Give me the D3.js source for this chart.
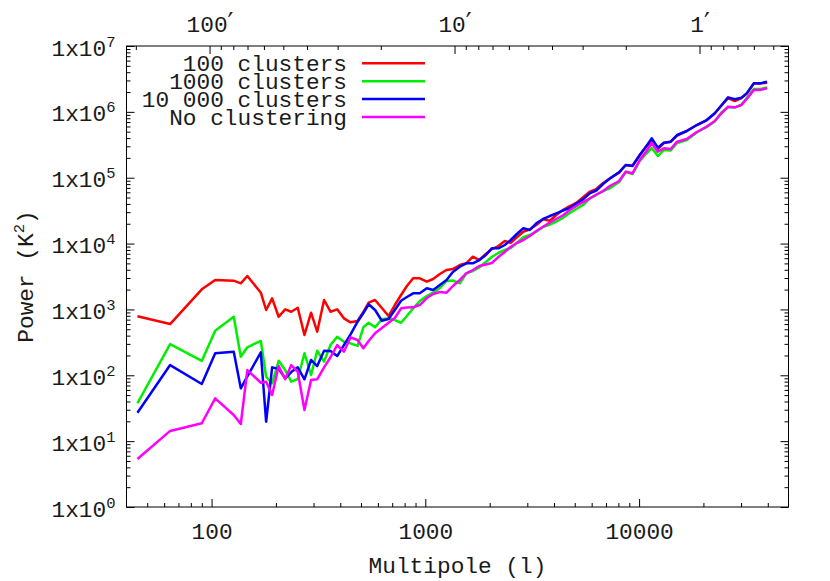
<!DOCTYPE html>
<html>
<head>
<meta charset="utf-8">
<script src="https://cdn.jsdelivr.net/npm/d3@7"></script>
<style>
body { margin: 0; background: #fff; }
text { font-family: 'Liberation Mono', 'DejaVu Sans Mono', monospace; fill: #1a1a1a; }
</style>
</head>
<body>
<div id="chart"></div>
<script>
// multipole bins, shared by every curve
var multipole = [45, 64, 90, 104, 127, 137, 147, 170, 180, 192, 206, 221, 236, 253, 272, 292, 312, 336, 360, 387,
    416, 447, 482, 513, 543, 582, 626, 673, 720, 770, 820, 877, 942, 1016, 1088, 1169, 1257, 1345, 1450, 1555,
    1668, 1789, 1919, 2047, 2195, 2354, 2510, 2680, 2873, 3082, 3304, 3556, 3822, 4099, 4396, 4742, 5084, 5471, 5878, 6308,
    6787, 7294, 8064, 8664, 9312, 10080, 10750, 11470, 12240, 13050, 14060, 15060, 16710, 18620, 20740, 22590, 24370, 26080, 28030, 30130,
    31900, 34400, 36800, 39700];

var power100 = [790, 600, 2020, 2800, 2730, 2490, 3220, 1795, 980, 1475,
    775, 1004, 923, 1062, 409, 891, 459, 1390, 923, 1004,
    733, 637, 667, 914, 1265, 1390, 1051, 794, 1167, 1656,
    2268, 2970, 2970, 2636, 2897, 3450, 3970, 4110, 4725, 5012,
    6320, 5625, 6950, 8265, 9180, 10940, 10310, 12450, 15140, 16470,
    19150, 23360, 22250, 27150, 32350, 37170, 41300, 50400, 61260, 67300,
    83100, 97300, 120700, 155900, 150600, 221300, 292600, 360600, 272900, 336500,
    352400, 437600, 511900, 631200, 751600, 943600, 1270000, 1620000, 1460000, 1620000,
    1900000, 2690000, 2690000, 2770000];

var power1000 = [37.6, 298, 165, 475, 775, 191, 266, 332, 95.1, 75.5,
    166, 120, 80, 87.8, 216, 101, 236, 161, 288, 385,
    324, 306, 279, 535, 628, 535, 708, 733, 690, 628,
    794, 1040, 1343, 1600, 1795, 2115, 2702, 2750, 2494, 3534,
    3830, 4362, 5250, 6250, 7190, 7985, 8560, 10200, 12450, 13490,
    15140, 17830, 19460, 21470, 24450, 29110, 33500, 38480, 48640, 54600,
    62800, 69000, 86000, 123300, 113800, 179500, 229100, 282500, 213600, 263400,
    259000, 336500, 373400, 485600, 588400, 713800, 994800, 1180000, 1160000, 1290000,
    1620000, 2220000, 2220000, 2340000];

var power10000 = [27.0, 143, 73.8, 216, 228, 63.4, 96, 223, 19.7, 132,
    125, 90, 112, 132, 86.9, 171, 138, 236, 234, 196,
    288, 419, 651, 883, 1196, 980, 674, 716, 980, 1356,
    1544, 1757, 1757, 2093, 1972, 2349, 2800, 3700, 4454, 5012,
    5012, 5625, 6700, 8470, 8470, 9510, 11330, 13970, 17050, 16070,
    20320, 23600, 26200, 28800, 31750, 34670, 40570, 46970, 57940, 63900,
    80200, 97300, 120700, 155900, 152000, 221300, 292600, 396300, 285600, 339900,
    352400, 444900, 511900, 631200, 751600, 950600, 1270000, 1660000, 1550000, 1640000,
    1910000, 2710000, 2710000, 2870000];

var powerNone = [5.35, 14.3, 18.7, 44.7, 24.9, 18.2, 120, 77.1, 80, 50.2,
    138, 86.9, 143, 113, 29.7, 84.8, 86.9, 132, 188, 288,
    228, 377, 343, 257, 332, 434, 522, 628, 741, 1040,
    1069, 1077, 1167, 1490, 1714, 1837, 1795, 2268, 2800, 3534,
    3970, 4564, 4810, 5070, 6250, 7447, 8960, 10200, 11330, 13030,
    15520, 18030, 20890, 23600, 26680, 32350, 37170, 42740, 48310, 55600,
    62800, 74800, 89100, 123300, 116700, 185700, 245500, 332800, 248200, 279500,
    272900, 352400, 387300, 494300, 598400, 726100, 960600, 1200000, 1170000, 1270000,
    1570000, 2150000, 2150000, 2280000];

var seriesNames = ['100 clusters', '1000 clusters', '10 000 clusters', 'No clustering'];
var seriesColors = ['#ff0000', '#00ee00', '#0000ff', '#ff00ff'];
var seriesValues = [power100, power1000, power10000, powerNone];

// tick values
var xTicks = [100, 1000, 10000];
var yTicks = [1, 10, 100, 1e3, 1e4, 1e5, 1e6, 1e7];
var arcTicks = [100, 10, 1]; // arcminutes, top axis

var fs = '22.8px';
var w = 830, h = 581;
var margin = {left: 126.5, top: 46, right: 41.5, bottom: 74};
var pw = w - margin.left - margin.right;
var ph = h - margin.top - margin.bottom;

var svg = d3.select('#chart').append('svg')
    .attr('width', w)
    .attr('height', h);

var plot = svg.append('g')
    .attr('transform', `translate(${margin.left}, ${margin.top})`);

var x = d3.scaleLog().domain([40, 50000]).range([0, pw]);
var y = d3.scaleLog().domain([1, 1e7]).range([ph, 0]);
var xTop = d3.scaleLog().domain([218.3, 0.4333]).range([0, pw]);

// minor ticks 2..9 in each decade, kept inside the domain
function minors(scale) {
    var d = scale.domain(), lo = Math.min(d[0], d[1]), hi = Math.max(d[0], d[1]);
    var out = [];
    for (var e = Math.floor(Math.log10(lo)); e <= Math.ceil(Math.log10(hi)); e++) {
        for (var m = 2; m <= 9; m++) {
            var v = m * Math.pow(10, e);
            if (v > lo && v < hi) out.push(v);
        }
    }
    return out;
}

function clean(g) {
    g.select('.domain').remove();
    g.attr('font-family', null).attr('font-size', null);
    g.selectAll('line').attr('stroke', '#000');
}

// bottom axis
plot.append('g')
    .attr('transform', `translate(0, ${ph})`)
    .call(d3.axisBottom(x).tickValues(minors(x)).tickSize(-4).tickSizeOuter(0).tickFormat(''))
    .call(clean);
var xAx = plot.append('g')
    .attr('transform', `translate(0, ${ph})`)
    .call(d3.axisBottom(x).tickValues(xTicks).tickSize(-8).tickSizeOuter(0).tickFormat(d3.format('d')))
    .call(clean);
xAx.selectAll('text').attr('y', 31.5).attr('dy', null).style('font-size', fs);

// top axis (angular scale)
plot.append('g')
    .call(d3.axisTop(xTop).tickValues(minors(xTop)).tickSize(-4).tickSizeOuter(0).tickFormat(''))
    .call(clean);
var topAx = plot.append('g')
    .call(d3.axisTop(xTop).tickValues(arcTicks).tickSize(-8).tickSizeOuter(0).tickFormat(''))
    .call(clean);
topAx.selectAll('.tick text').each(function(d) {
    var t = d3.select(this).attr('y', -14.5).attr('dy', null).style('font-size', fs);
    t.append('tspan').text(d);
    t.append('tspan').style('font-family', "'DejaVu Sans'").style('font-size', '26px').text('\u2032');
});

// left and right axes
[0, pw].forEach(function(pos) {
    var mk = pos === 0 ? d3.axisLeft : d3.axisRight;
    plot.append('g')
        .attr('transform', `translate(${pos}, 0)`)
        .call(mk(y).tickValues(minors(y)).tickSize(-4).tickSizeOuter(0).tickFormat(''))
        .call(clean);
    plot.append('g')
        .attr('class', pos === 0 ? 'y-left' : 'y-right')
        .attr('transform', `translate(${pos}, 0)`)
        .call(mk(y).tickValues(yTicks).tickSize(-8).tickSizeOuter(0).tickFormat(''))
        .call(clean);
});

plot.select('.y-left').selectAll('.tick text').each(function(d) {
    var t = d3.select(this)
        .attr('x', -11)
        .attr('y', 9)
        .attr('dy', null)
        .attr('text-anchor', 'end')
        .style('font-size', fs);
    t.append('tspan').text('1x10');
    t.append('tspan').attr('dy', -9).style('font-size', '15.5px').text(Math.round(Math.log10(d)));
});

// curves
var line = d3.line()
    .x(d => x(d[0]))
    .y(d => y(d[1]));

seriesValues.forEach(function(vals, i) {
    plot.append('path')
        .datum(multipole.map((l, j) => [l, vals[j]]))
        .attr('d', line)
        .attr('fill', 'none')
        .attr('stroke', seriesColors[i])
        .attr('stroke-width', 2.5)
        .attr('stroke-linejoin', 'round');
});

// frame
plot.append('rect')
    .attr('width', pw)
    .attr('height', ph)
    .attr('fill', 'none')
    .attr('stroke', '#000')
    .attr('stroke-width', 1);

// legend
var legend = svg.append('g').attr('id', 'legend');
seriesNames.forEach(function(name, i) {
    var ly = 63.3 + i * 17.9;
    legend.append('text')
        .attr('x', 347)
        .attr('y', ly + 8)
        .attr('text-anchor', 'end')
        .style('font-size', fs)
        .text(name);
    legend.append('line')
        .attr('x1', 362).attr('x2', 425)
        .attr('y1', ly).attr('y2', ly)
        .attr('stroke', seriesColors[i])
        .attr('stroke-width', 2.5);
});

// axis titles
svg.append('text')
    .attr('x', margin.left + pw / 2)
    .attr('y', 573)
    .attr('text-anchor', 'middle')
    .style('font-size', fs)
    .text('Multipole (l)');

var yl = svg.append('text')
    .attr('transform', `translate(33, ${margin.top + ph / 2}) rotate(-90)`)
    .attr('text-anchor', 'middle')
    .style('font-size', fs);
yl.append('tspan').text('Power (K');
yl.append('tspan').attr('dy', -9).style('font-size', '15.5px').text('2');
yl.append('tspan').attr('dy', 9).text(')');
</script>
</body>
</html>
